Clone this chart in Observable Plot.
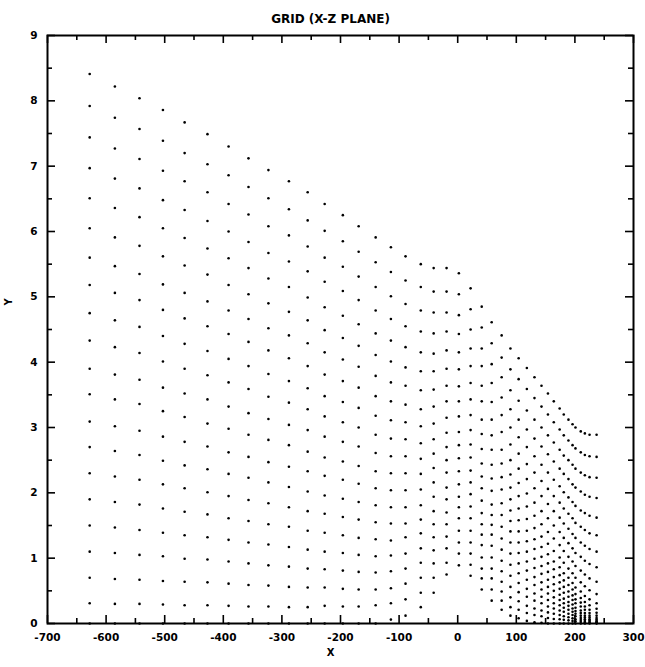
<!DOCTYPE html>
<html>
<head>
<meta charset="utf-8">
<script src="https://cdn.jsdelivr.net/npm/d3@7"></script>
<script src="https://cdn.jsdelivr.net/npm/@observablehq/plot@0.6"></script>
<style>
  html, body { margin: 0; padding: 0; background: #fff; }
  #chart { width: 645px; height: 667px; }
</style>
</head>
<body>
<div id="chart"></div>
<script>
// ---- text ----
const chartTitle = "GRID (X-Z PLANE)";
const xTitle = "X";
const yTitle = "Y";

// ---- axis ticks ----
const xTicksMajor = [-700, -600, -500, -400, -300, -200, -100, 0, 100, 200, 300];
const xTicksMinor = [-650, -550, -450, -350, -250, -150, -50, 50, 150, 250];
const yTicksMajor = [0, 1, 2, 3, 4, 5, 6, 7, 8, 9];
const yTicksMinor = [0.5, 1.5, 2.5, 3.5, 4.5, 5.5, 6.5, 7.5, 8.5];

// ---- grid: x of each grid column ----
const gridX = [-628, -585, -543, -503, -466, -427, -391, -357, -323, -288, -256,
  -227, -196, -169, -140, -114, -89, -63, -41, -19, 2, 22, 41, 58, 75, 90, 104,
  118, 131, 143, 154, 164, 174, 181, 189, 196, 201, 210, 217, 225, 237];

// ---- grid: y of the 21 points of each column, bottom to top ----
const c00 = [0, 0.31, 0.70, 1.10, 1.50, 1.90, 2.30, 2.70, 3.09, 3.51, 3.90, 4.33, 4.75, 5.18, 5.60, 6.05, 6.51, 6.97, 7.44, 7.92, 8.41];
const c01 = [0, 0.30, 0.68, 1.08, 1.47, 1.86, 2.25, 2.64, 3.02, 3.43, 3.81, 4.23, 4.64, 5.06, 5.47, 5.91, 6.36, 6.81, 7.27, 7.74, 8.22];
const c02 = [0, 0.30, 0.67, 1.05, 1.43, 1.82, 2.20, 2.58, 2.95, 3.36, 3.73, 4.14, 4.54, 4.95, 5.35, 5.78, 6.22, 6.66, 7.11, 7.57, 8.04];
const c03 = [0, 0.29, 0.65, 1.03, 1.39, 1.76, 2.13, 2.49, 2.86, 3.25, 3.61, 4.01, 4.40, 4.80, 5.19, 5.62, 6.05, 6.48, 6.93, 7.39, 7.86];
const c04 = [0, 0.28, 0.64, 0.99, 1.35, 1.71, 2.07, 2.42, 2.78, 3.16, 3.52, 3.90, 4.28, 4.67, 5.06, 5.48, 5.90, 6.33, 6.77, 7.20, 7.67];
const c05 = [0, 0.28, 0.63, 0.98, 1.32, 1.67, 2.01, 2.36, 2.71, 3.06, 3.43, 3.80, 4.17, 4.55, 4.93, 5.34, 5.74, 6.16, 6.60, 7.03, 7.49];
const c06 = [0, 0.27, 0.61, 0.95, 1.28, 1.61, 1.95, 2.29, 2.62, 2.98, 3.32, 3.69, 4.05, 4.43, 4.79, 5.18, 5.59, 6.00, 6.42, 6.86, 7.30];
const c07 = [0, 0.26, 0.59, 0.92, 1.24, 1.57, 1.89, 2.23, 2.55, 2.89, 3.22, 3.59, 3.94, 4.31, 4.66, 5.04, 5.44, 5.84, 6.26, 6.68, 7.12];
const c08 = [0, 0.26, 0.58, 0.89, 1.21, 1.52, 1.84, 2.16, 2.47, 2.81, 3.13, 3.47, 3.82, 4.18, 4.52, 4.90, 5.28, 5.67, 6.08, 6.51, 6.94];
const c09 = [0, 0.25, 0.56, 0.87, 1.17, 1.48, 1.78, 2.09, 2.40, 2.73, 3.04, 3.38, 3.71, 4.06, 4.41, 4.77, 5.15, 5.54, 5.94, 6.34, 6.77];
const c10 = [0, 0.25, 0.55, 0.84, 1.13, 1.42, 1.72, 2.02, 2.33, 2.63, 2.96, 3.28, 3.60, 3.94, 4.29, 4.64, 4.99, 5.39, 5.77, 6.17, 6.60];
const c11 = [0, 0.27, 0.55, 0.83, 1.10, 1.39, 1.68, 1.96, 2.26, 2.54, 2.86, 3.17, 3.48, 3.81, 4.15, 4.49, 4.84, 5.23, 5.60, 6.01, 6.42];
const c12 = [0, 0.26, 0.53, 0.81, 1.08, 1.35, 1.63, 1.91, 2.20, 2.48, 2.78, 3.08, 3.39, 3.71, 4.04, 4.37, 4.71, 5.09, 5.46, 5.85, 6.25];
const c13 = [0, 0.26, 0.52, 0.79, 1.05, 1.31, 1.59, 1.86, 2.14, 2.41, 2.71, 3.00, 3.30, 3.61, 3.93, 4.25, 4.58, 4.95, 5.31, 5.69, 6.08];
const c14 = [0, 0.28, 0.52, 0.78, 1.03, 1.29, 1.55, 1.81, 2.07, 2.33, 2.61, 2.89, 3.18, 3.48, 3.79, 4.11, 4.44, 4.79, 5.15, 5.53, 5.91];
const c15 = [0.06, 0.31, 0.54, 0.80, 1.04, 1.27, 1.53, 1.78, 2.04, 2.30, 2.56, 2.83, 3.11, 3.40, 3.69, 4.01, 4.33, 4.66, 5.01, 5.38, 5.76];
const c16 = [0.12, 0.37, 0.61, 0.84, 1.07, 1.32, 1.53, 1.78, 2.04, 2.30, 2.56, 2.82, 3.08, 3.35, 3.64, 3.92, 4.23, 4.55, 4.89, 5.25, 5.62];
const c17 = [0.25, 0.47, 0.70, 0.93, 1.15, 1.38, 1.59, 1.81, 2.05, 2.29, 2.52, 2.76, 3.02, 3.28, 3.57, 3.86, 4.15, 4.47, 4.79, 5.15, 5.50];
const c18 = [0.47, 0.70, 0.92, 1.12, 1.32, 1.52, 1.72, 1.94, 2.16, 2.38, 2.60, 2.82, 3.06, 3.32, 3.58, 3.86, 4.13, 4.44, 4.76, 5.08, 5.44];
const c19 = [0.75, 0.93, 1.15, 1.33, 1.52, 1.70, 1.90, 2.08, 2.31, 2.50, 2.70, 2.92, 3.15, 3.40, 3.64, 3.90, 4.18, 4.47, 4.76, 5.08, 5.44];
const c20 = [0.89, 1.07, 1.24, 1.42, 1.61, 1.78, 1.94, 2.13, 2.33, 2.53, 2.73, 2.93, 3.17, 3.40, 3.63, 3.89, 4.15, 4.43, 4.72, 5.04, 5.36];
const c21 = [0.73, 0.90, 1.07, 1.24, 1.42, 1.61, 1.79, 1.98, 2.16, 2.34, 2.54, 2.74, 2.96, 3.19, 3.43, 3.68, 3.94, 4.21, 4.50, 4.81, 5.13];
const c22 = [0.52, 0.69, 0.84, 1.01, 1.20, 1.36, 1.52, 1.69, 1.88, 2.07, 2.25, 2.45, 2.67, 2.90, 3.12, 3.40, 3.64, 3.94, 4.21, 4.53, 4.85];
const c23 = [0.35, 0.52, 0.69, 0.84, 1.01, 1.19, 1.36, 1.51, 1.66, 1.82, 2.03, 2.22, 2.43, 2.66, 2.88, 3.12, 3.39, 3.68, 3.97, 4.29, 4.61];
const c24 = [0.21, 0.35, 0.49, 0.64, 0.80, 0.96, 1.13, 1.30, 1.48, 1.66, 1.84, 2.05, 2.24, 2.45, 2.66, 2.93, 3.19, 3.46, 3.77, 4.07, 4.41];
const c25 = [0.12, 0.25, 0.40, 0.56, 0.73, 0.90, 1.07, 1.24, 1.41, 1.57, 1.73, 1.90, 2.08, 2.28, 2.50, 2.74, 3.00, 3.28, 3.57, 3.89, 4.21];
const c26 = [0.08, 0.21, 0.34, 0.48, 0.62, 0.77, 0.92, 1.08, 1.24, 1.41, 1.58, 1.76, 1.95, 2.15, 2.37, 2.60, 2.85, 3.12, 3.41, 3.74, 4.06];
const c27 = [0.04, 0.16, 0.27, 0.41, 0.53, 0.67, 0.81, 0.95, 1.10, 1.26, 1.42, 1.60, 1.79, 1.99, 2.21, 2.44, 2.70, 2.97, 3.26, 3.59, 3.91];
const c28 = [0.02, 0.13, 0.23, 0.35, 0.46, 0.59, 0.71, 0.85, 0.99, 1.14, 1.29, 1.46, 1.65, 1.85, 2.07, 2.31, 2.56, 2.83, 3.12, 3.45, 3.77];
const c29 = [0.01, 0.11, 0.20, 0.31, 0.41, 0.52, 0.63, 0.76, 0.88, 1.02, 1.17, 1.33, 1.52, 1.72, 1.95, 2.18, 2.43, 2.71, 3.00, 3.32, 3.64];
const c30 = [0, 0.085, 0.17, 0.26, 0.36, 0.46, 0.56, 0.67, 0.79, 0.92, 1.06, 1.22, 1.40, 1.61, 1.83, 2.06, 2.31, 2.59, 2.88, 3.20, 3.52];
const c31 = [0, 0.07, 0.15, 0.23, 0.31, 0.40, 0.50, 0.60, 0.71, 0.83, 0.95, 1.11, 1.30, 1.50, 1.72, 1.95, 2.20, 2.48, 2.77, 3.08, 3.40];
const c32 = [0, 0.065, 0.13, 0.20, 0.28, 0.36, 0.44, 0.53, 0.63, 0.74, 0.86, 1.01, 1.20, 1.40, 1.62, 1.85, 2.10, 2.37, 2.66, 2.97, 3.29];
const c33 = [0, 0.056, 0.11, 0.18, 0.24, 0.31, 0.38, 0.47, 0.56, 0.66, 0.77, 0.93, 1.11, 1.31, 1.53, 1.76, 2.01, 2.29, 2.57, 2.88, 3.20];
const c34 = [0, 0.048, 0.096, 0.15, 0.21, 0.27, 0.33, 0.41, 0.49, 0.59, 0.70, 0.84, 1.02, 1.23, 1.45, 1.68, 1.93, 2.21, 2.50, 2.80, 3.12];
const c35 = [0, 0.04, 0.08, 0.13, 0.18, 0.23, 0.29, 0.36, 0.43, 0.52, 0.62, 0.77, 0.95, 1.15, 1.37, 1.61, 1.86, 2.13, 2.43, 2.73, 3.05];
const c36 = [0, 0.033, 0.066, 0.11, 0.15, 0.19, 0.24, 0.31, 0.37, 0.45, 0.55, 0.70, 0.88, 1.08, 1.31, 1.54, 1.80, 2.08, 2.37, 2.68, 3.00];
const c37 = [0, 0.025, 0.053, 0.084, 0.12, 0.16, 0.20, 0.26, 0.32, 0.39, 0.49, 0.63, 0.81, 1.02, 1.24, 1.48, 1.73, 2.02, 2.31, 2.62, 2.94];
const c38 = [0, 0.019, 0.04, 0.064, 0.091, 0.12, 0.16, 0.21, 0.26, 0.33, 0.42, 0.57, 0.75, 0.96, 1.19, 1.43, 1.69, 1.97, 2.27, 2.58, 2.91];
const c39 = [0, 0.012, 0.027, 0.045, 0.066, 0.092, 0.12, 0.16, 0.21, 0.28, 0.37, 0.51, 0.69, 0.91, 1.14, 1.38, 1.65, 1.94, 2.24, 2.56, 2.89];
const c40 = [0, 0.006, 0.014, 0.026, 0.04, 0.061, 0.084, 0.12, 0.165, 0.225, 0.31, 0.45, 0.64, 0.86, 1.10, 1.35, 1.62, 1.92, 2.23, 2.55, 2.89];

const gridColumns = [c00, c01, c02, c03, c04, c05, c06, c07, c08, c09, c10,
  c11, c12, c13, c14, c15, c16, c17, c18, c19, c20, c21, c22, c23, c24, c25,
  c26, c27, c28, c29, c30, c31, c32, c33, c34, c35, c36, c37, c38, c39, c40];

// table for the dot mark
const points = gridX.flatMap((x, i) => gridColumns[i].map(y => ({x, y})));

// ---- layout ----
const W = 645, H = 667;
const mL = 47, mR = 12, mT = 35, mB = 44;
const plotW = W - mL - mR, plotH = H - mT - mB;
const fontFamily = "'DejaVu Sans', 'Liberation Sans', sans-serif";

const chart = Plot.plot({
  width: W,
  height: H,
  marginLeft: mL,
  marginRight: mR,
  marginTop: mT,
  marginBottom: mB,
  x: {domain: [-700, 300]},
  y: {domain: [0, 9]},
  style: {
    fontFamily,
    fontSize: "10px",
    fontWeight: "bold",
    background: "#fff",
    color: "#000",
    overflow: "visible"
  },
  marks: [
    Plot.dot(points, {x: "x", y: "y", r: 1.3, fill: "#000", stroke: null}),
    // ticks (inward) bottom & top
    Plot.ruleX(xTicksMajor, {x: d => d, insetTop: plotH - 8, stroke: "#000", strokeWidth: 1.6}),
    Plot.ruleX(xTicksMinor, {x: d => d, insetTop: plotH - 5, stroke: "#000", strokeWidth: 1.6}),
    Plot.ruleX(xTicksMajor, {x: d => d, insetBottom: plotH - 8, stroke: "#000", strokeWidth: 1.6}),
    Plot.ruleX(xTicksMinor, {x: d => d, insetBottom: plotH - 5, stroke: "#000", strokeWidth: 1.6}),
    // ticks (inward) left & right
    Plot.ruleY(yTicksMajor, {y: d => d, insetRight: plotW - 8, stroke: "#000", strokeWidth: 1.6}),
    Plot.ruleY(yTicksMinor, {y: d => d, insetRight: plotW - 5, stroke: "#000", strokeWidth: 1.6}),
    Plot.ruleY(yTicksMajor, {y: d => d, insetLeft: plotW - 8, stroke: "#000", strokeWidth: 1.6}),
    Plot.ruleY(yTicksMinor, {y: d => d, insetLeft: plotW - 5, stroke: "#000", strokeWidth: 1.6}),
    Plot.frame({stroke: "#000", strokeWidth: 2}),
    // tick labels
    Plot.axisX(xTicksMajor, {anchor: "bottom", tickSize: 0, tickPadding: 10, tickFormat: d => String(d), label: null, fontSize: 10.5}),
    Plot.axisY(yTicksMajor, {anchor: "left", tickSize: 0, tickPadding: 10, tickFormat: d => String(d), label: null, fontSize: 10.5}),
    // titles
    Plot.text([chartTitle], {frameAnchor: "top", dx: -10, dy: -21, fontSize: 12, fontWeight: "bold", text: d => d, style: "letter-spacing:0.6px"}),
    Plot.text([xTitle], {frameAnchor: "bottom", dx: -10, dy: 32, fontSize: 10, fontWeight: "bold", text: d => d}),
    Plot.text([yTitle], {frameAnchor: "left", dx: -39, dy: -24, rotate: -90, fontSize: 10, fontWeight: "bold", text: d => d})
  ]
});

document.getElementById("chart").appendChild(chart);
</script>
</body>
</html>
